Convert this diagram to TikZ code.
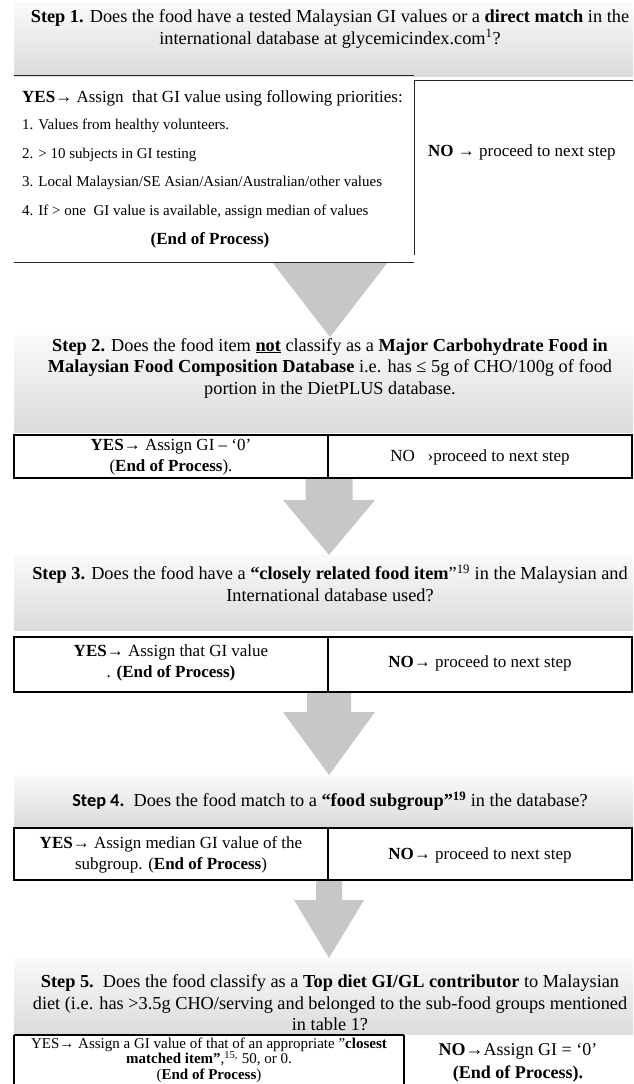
\documentclass[tikz,border=0pt]{standalone}
\usepackage{fontspec}
\setmainfont{Liberation Serif}
\newfontfamily\stepsans{Carlito}
\usetikzlibrary{calc}
\begin{document}
\begin{tikzpicture}[x=1pt,y=-1pt,
  band/.style={top color=black!2, bottom color=black!14, draw=none},
  hdr/.style={align=center, font=\fontsize{18.3}{21.5}\selectfont, inner sep=0pt},
  cell/.style={align=center, font=\fontsize{17}{20.5}\selectfont, inner sep=0pt},
  cellbig/.style={align=center, font=\fontsize{18}{21}\selectfont, inner sep=0pt},
  cellsmall/.style={align=center, font=\fontsize{15}{17}\selectfont, inner sep=0pt},
  item/.style={anchor=west, font=\fontsize{15}{17}\selectfont, inner sep=0pt},
  thinline/.style={line width=0.9pt, draw=black!85},
  tbl/.style={line width=1.4pt, draw=black},
  blockarrow/.style={fill=black!22, draw=none},
]
\useasboundingbox (0,0) rectangle (633,1084);
\clip (0,0) rectangle (633,1084);

% ---------- header bands ----------
\shade[band] (14,2) rectangle (633,76);
\shade[band] (14,335) rectangle (633,432);
\shade[band] (14,555) rectangle (633,630);
\shade[band] (14,775) rectangle (633,826);
\shade[band] (14,958) rectangle (633,1034);

% ---------- block arrows ----------
\coordinate (a1s) at (330,262); \coordinate (a1t) at (330,337);
\fill[blockarrow] ($(a1s)+(-58,0)$) -- ($(a1s)+(58,0)$) -- (a1t) -- cycle;

\coordinate (a2s) at (329,478); \coordinate (a2t) at (329,555);
\fill[blockarrow] ($(a2s)+(-23.5,0)$) -- ($(a2s)+(23.5,0)$) -- ($(a2s)+(23.5,22)$) -- ($(a2s)+(46,22)$)
  -- (a2t) -- ($(a2s)+(-46,22)$) -- ($(a2s)+(-23.5,22)$) -- cycle;

\coordinate (a3s) at (329,692); \coordinate (a3t) at (329,775);
\fill[blockarrow] ($(a3s)+(-22,0)$) -- ($(a3s)+(22,0)$) -- ($(a3s)+(22,20)$) -- ($(a3s)+(46,20)$)
  -- (a3t) -- ($(a3s)+(-46,20)$) -- ($(a3s)+(-22,20)$) -- cycle;

\coordinate (a4s) at (329,880); \coordinate (a4t) at (329,958);
\fill[blockarrow] ($(a4s)+(-13,0)$) -- ($(a4s)+(13,0)$) -- ($(a4s)+(13,20)$) -- ($(a4s)+(35,20)$)
  -- (a4t) -- ($(a4s)+(-35,20)$) -- ($(a4s)+(-13,20)$) -- cycle;

% ---------- Step 1 ----------
\node[hdr] (s1) at (330,29) {\textbf{Step 1.} Does the food have a tested Malaysian GI values or a \textbf{direct match} in the\\international database at glycemicindex.com\textsuperscript{1}?};
\draw[thinline] (14,75) -- (414,75);
\draw[thinline] (414,80) -- (633,80);
\draw[thinline] (414,80) -- (414,255);
\draw[thinline] (14,262) -- (414,262);
\node[cell, anchor=west] (y1) at (22,98) {\textbf{YES}→ Assign\ \ that GI value using following priorities:};
\node[item] (i1) at (22,126) {1. Values from healthy volunteers.};
\node[item] (i2) at (22,155) {2. > 10 subjects in GI testing};
\node[item] (i3) at (22,183) {3. Local Malaysian/SE Asian/Asian/Australian/other values};
\node[item] (i4) at (22,212) {4. If > one\ \ GI value is available, assign median of values};
\node[cell] (e1) at (210,240) {\textbf{(End of Process)}};
\node[cell, anchor=west] (n1) at (428,152) {\textbf{NO} → proceed to next step};

% ---------- Step 2 ----------
\node[hdr] (s2) at (330,368) {\textbf{Step 2.} Does the food item \textbf{\underline{not}} classify as a \textbf{Major Carbohydrate Food in}\\\textbf{Malaysian Food Composition Database} i.e. has ≤ 5g of CHO/100g of food\\portion in the DietPLUS database.};
\draw[tbl] (14,435) rectangle (632,478);
\draw[tbl] (328,435) -- (328,478);
\node[cell] (y2) at (171,457) {\textbf{YES}→ Assign GI – ‘0’\\(\textbf{End of Process}).};
\node[cell] (n2) at (480,457) {NO\ \ \ ›proceed to next step};

% ---------- Step 3 ----------
\node[hdr] (s3) at (330,583) {\textbf{Step 3.} Does the food have a \textbf{“closely related food item}”\textsuperscript{19} in the Malaysian and\\International database used?};
\draw[tbl] (14,637) rectangle (632,692);
\draw[tbl] (328,637) -- (328,692);
\node[cell] (y3) at (171,663) {\textbf{YES}→ Assign that GI value\\. \textbf{(End of Process)}};
\node[cell] (n3) at (480,663) {\textbf{NO}→ proceed to next step};

% ---------- Step 4 ----------
\node[hdr] (s4) at (330,801) {{\stepsans\bfseries Step 4.}\ \ Does the food match to a \textbf{“food subgroup”\textsuperscript{19}} in the database?};
\draw[tbl] (14,828) rectangle (632,880);
\draw[tbl] (328,828) -- (328,880);
\node[cell] (y4) at (171,855) {\textbf{YES}→ Assign median GI value of the\\subgroup. (\textbf{End of Process})};
\node[cell] (n4) at (480,855) {\textbf{NO}→ proceed to next step};

% ---------- Step 5 ----------
\node[hdr] (s5) at (330,1003) {\textbf{Step 5.}\ \ Does the food classify as a \textbf{Top diet GI/GL contributor} to Malaysian\\diet (i.e. has >3.5g CHO/serving and belonged to the sub-food groups mentioned\\in table 1?};
\draw[tbl] (14,1035) -- (404,1035);
\draw[tbl] (14,1035) -- (14,1084);
\draw[tbl] (404,1035) -- (404,1084);
\node[cellsmall] (y5a) at (209,1045) {YES→ Assign a GI value of that of an appropriate "\textbf{closest}};
\node[cellsmall] (y5b) at (209,1059) {\textbf{matched item"},\textsuperscript{15,} 50, or 0.};
\node[cellsmall] (y5c) at (209,1076) {(\textbf{End of Process})};
\node[cellbig] (n5a) at (518,1051) {\textbf{NO}→Assign GI = ‘0’};
\node[cellbig] (n5b) at (518,1074) {\textbf{(End of Process).}};
\end{tikzpicture}
\end{document}
